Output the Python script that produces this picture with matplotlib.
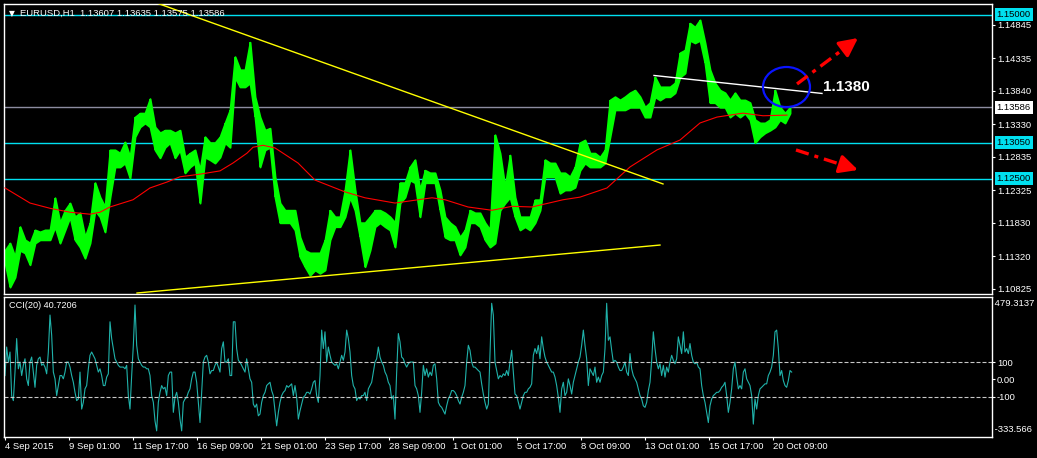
"""
EURUSD H1 chart with CCI(20) sub window
"""
import numpy as np
import matplotlib
matplotlib.use('Agg')
import matplotlib.pyplot as plt
from matplotlib.patches import Ellipse

plt.rcParams['font.family'] = ['Liberation Sans', 'DejaVu Sans']

# Price bars, sampled every 5 hourly bars (high / low)
price_high = [1.1141, 1.1152, 1.1131, 1.1177, 1.1157, 1.1152, 1.1172, 1.1169, 1.1172, 1.1172,
              1.1221, 1.1183, 1.1202, 1.1213, 1.1192, 1.1198, 1.1161, 1.1183, 1.1244, 1.1222,
              1.1207, 1.1294, 1.1294, 1.1289, 1.1306, 1.1283, 1.1344, 1.1350, 1.1350, 1.1372,
              1.1329, 1.1320, 1.1324, 1.1324, 1.1320, 1.1324, 1.1283, 1.1289, 1.1294, 1.1263,
              1.1314, 1.1305, 1.1305, 1.1314, 1.1335, 1.1355, 1.1436, 1.1416, 1.1416, 1.1458,
              1.1375, 1.1344, 1.1324, 1.1327, 1.1253, 1.1213, 1.1202, 1.1202, 1.1202, 1.1161,
              1.1141, 1.1137, 1.1137, 1.1137, 1.1157, 1.1202, 1.1192, 1.1192, 1.1233, 1.1294,
              1.1233, 1.1183, 1.1183, 1.1192, 1.1202, 1.1202, 1.1198, 1.1192, 1.1183, 1.1244,
              1.1244, 1.1268, 1.1279, 1.1233, 1.1263, 1.1259, 1.1259, 1.1233, 1.1192, 1.1183,
              1.1177, 1.1161, 1.1172, 1.1202, 1.1198, 1.1198, 1.1183, 1.1172, 1.1317, 1.1289,
              1.1237, 1.1286, 1.1222, 1.1192, 1.1192, 1.1192, 1.1218, 1.1218, 1.1279, 1.1274,
              1.1274, 1.1259, 1.1259, 1.1253, 1.1268, 1.1305, 1.1309, 1.1289, 1.1289, 1.1283,
              1.1294, 1.1370, 1.1375, 1.1370, 1.1375, 1.1381, 1.1385, 1.1375, 1.1359, 1.1366,
              1.1405, 1.1390, 1.1390, 1.1390, 1.1396, 1.1442, 1.1446, 1.1487, 1.1481, 1.1492,
              1.1457, 1.1416, 1.1396, 1.1385, 1.1381, 1.1370, 1.1381, 1.1370, 1.1370, 1.1366,
              1.1340, 1.1335, 1.1335, 1.1340, 1.1385, 1.1359, 1.1350, 1.1359]
price_low = [1.1122, 1.1085, 1.1100, 1.1141, 1.1137, 1.1119, 1.1152, 1.1157, 1.1157, 1.1157,
             1.1177, 1.1152, 1.1172, 1.1192, 1.1157, 1.1146, 1.1129, 1.1152, 1.1202, 1.1192,
             1.1169, 1.1222, 1.1268, 1.1268, 1.1274, 1.1251, 1.1314, 1.1329, 1.1335, 1.1329,
             1.1294, 1.1282, 1.1298, 1.1305, 1.1282, 1.1294, 1.1259, 1.1268, 1.1274, 1.1213,
             1.1283, 1.1279, 1.1274, 1.1283, 1.1305, 1.1298, 1.1405, 1.1390, 1.1390, 1.1396,
             1.1344, 1.1268, 1.1294, 1.1298, 1.1222, 1.1183, 1.1183, 1.1183, 1.1172, 1.1131,
             1.1116, 1.1103, 1.1111, 1.1106, 1.1111, 1.1157, 1.1177, 1.1177, 1.1192, 1.1222,
             1.1202, 1.1161, 1.1116, 1.1141, 1.1177, 1.1183, 1.1177, 1.1172, 1.1146, 1.1213,
             1.1222, 1.1248, 1.1244, 1.1192, 1.1244, 1.1244, 1.1244, 1.1202, 1.1161, 1.1157,
             1.1157, 1.1134, 1.1146, 1.1183, 1.1183, 1.1177, 1.1157, 1.1146, 1.1152, 1.1202,
             1.1213, 1.1222, 1.1192, 1.1172, 1.1177, 1.1172, 1.1183, 1.1202, 1.1253, 1.1253,
             1.1253, 1.1228, 1.1233, 1.1233, 1.1237, 1.1263, 1.1274, 1.1268, 1.1268, 1.1268,
             1.1274, 1.1314, 1.1355, 1.1355, 1.1355, 1.1359, 1.1359, 1.1359, 1.1344, 1.1344,
             1.1375, 1.1370, 1.1375, 1.1375, 1.1381, 1.1405, 1.1411, 1.1461, 1.1457, 1.1461,
             1.1426, 1.1366, 1.1366, 1.1359, 1.1359, 1.1344, 1.1350, 1.1344, 1.1350, 1.1340,
             1.1305, 1.1314, 1.1320, 1.1324, 1.1329, 1.1340, 1.1335, 1.1350]
bar_step = 5

# Moving average (bar index, price)
ma_bar = [0, 25, 45, 65, 85, 95, 105, 128, 145, 162, 175, 195, 215, 228, 242, 248, 258, 270,
          293, 310, 340, 360, 390, 427, 440, 463, 487, 507, 527, 558, 575, 602, 625, 652, 675,
          695, 712, 738, 758, 782]
ma_val = [1.1236, 1.1213, 1.1205, 1.1199, 1.1196, 1.1199, 1.1207, 1.1218, 1.1236, 1.1245,
          1.1253, 1.1257, 1.1262, 1.1274, 1.1289, 1.1298, 1.1301, 1.1297, 1.1274, 1.1248,
          1.1230, 1.1221, 1.1213, 1.1221, 1.1218, 1.1207, 1.1202, 1.1208, 1.1207, 1.1218,
          1.1222, 1.1236, 1.1268, 1.1294, 1.1309, 1.1335, 1.1344, 1.1350, 1.1346, 1.1347]

# CCI(20), sampled every 5/3 bar
cci = [22, 187, 100, 158, -94, -123, 42, 236, 61, 100, 22, 81, 119, 3, -36, 100, 129, 42, -46, 81,
       119, 129, 81, 90, 71, 32, 158, 372, 255, 42, 3, -94, -36, 22, 22, 3, 42, 100, 100, 71,
       22, -17, -75, -123, -114, 42, -172, -133, -55, -36, 61, 139, 158, 139, 119, 81, 42, 61, 22, -36,
       -36, 13, 32, 333, 236, 178, 119, 100, 81, 71, 71, 71, 61, 81, -94, -172, 22, 197, 430, 197,
       119, 100, 81, 71, 71, 61, 61, 22, -94, -133, -240, -298, -133, -75, -36, -55, -46, -94, 22, 42,
       42, -191, -104, -75, -133, -230, -298, -133, -114, -104, -75, -55, 3, 42, 42, -17, -133, -250, -75, 100,
       129, 139, 100, 32, 51, 51, 81, 100, 71, 42, 178, 217, 100, 100, 119, 22, 22, 333, 333, 178,
       110, 100, 81, 61, 42, 119, 61, 3, -17, -143, -162, -143, -211, -201, -133, -94, -75, -36, -26, -17,
       -65, -94, -182, -269, -191, -133, -94, -75, -65, -36, -46, -36, -26, -94, -36, -104, -230, -182, -143, -104,
       -94, -75, -75, -85, -55, -17, -7, -94, -133, 22, 285, 178, 275, 100, 187, 139, 100, 90, 81, 90,
       61, 100, 139, 110, 158, 285, 236, 158, 22, -36, -55, -123, -104, -114, -94, -94, -75, -123, -55, -36,
       -17, 42, 100, 119, 187, 129, 100, 81, 42, 22, -17, -36, -114, -94,
       -230, 42, 265, 217, 129, 119, 90, 71, 90, 100, 100, 100, -36, -55, -94, -191, -75, 81, 22, 61,
       13, 42, 22, 81, 90, 3, -133, -153, -162, -182, -201, -153, -114, -94, -65, -65, -75, -94, -123, -143,
       -104, -75, -36, 100, 197, 168, 100, 71, 71, 61, 51, 42, -26, -85, -133, -172, -143, 149, 440, 372,
       100, 51, 3, 22, 13, 32, 22, 51, 22, 100, 168, 42, -85, -94, -133, -172, -133, -94, -75, -75,
       -55, -46, -26, 139, 178, 149, 197, 119, 246, 178, 129, 100, 81, 61, 42, 42, 13, -36, -104, -191,
       -55, -17, -94, -75, 3, -36, -85, -17, 22, 61, 100, 129, 197, 285, 197, 119, -36, 61, 42, 22,
       71, -17, 13, -17, 22, 42, 178, 440, 226, 246, 168, 100, 110, 100, 71, 51, 51, 71, 100, 42,
       22, 149, 61, 22, 3, -17, -55, -94, -114, -153, -162, -133, -65, -17, 110, 275, 178, 100, 61, 90,
       22, 81, 13, 71, 42, 100, 139, 110, 90, 119, 246, 197, 149, 275, 158, 178, 149, 207, 139, 100,
       90, 100, 71, 61, -36, -94, -133, -191, -250, -153, -114, -94, -85, -75, -75, -65, -46, -36, -17, -94,
       -191, -133, -55, 61, 100, 13, -55, -36, -55, 42, 61, 3, -17, -36, -94, -259, -114, -172, -94, -55,
       -46, -36, -26, -26, 22, 42, 71, 139, 275, 285, 178, 22, 51, -7, -36, -46, -7, 51, 42]
cci_step = 5 / 3

# Time axis labels, one every 64 bars
date_labels = ['4 Sep 2015', '9 Sep 01:00', '11 Sep 17:00', '16 Sep 09:00', '21 Sep 01:00',
               '23 Sep 17:00', '28 Sep 09:00', '1 Oct 01:00', '5 Oct 17:00', '8 Oct 09:00',
               '13 Oct 01:00', '15 Oct 17:00', '20 Oct 09:00']
price_ticks = [1.14845, 1.14335, 1.13840, 1.13330, 1.12835, 1.12325, 1.11830, 1.11320, 1.10825]

# Horizontal levels: (price, colour)
levels = [(1.15000, '#00e0f0'), (1.13586, '#8c8ca0'), (1.13050, '#00e0f0'), (1.12500, '#00e0f0')]
level_bg = ['#00e0f0', 'white', '#00e0f0', '#00e0f0']

# Drawn objects (bar, price)
upper_trend = [(153, 1.15171), (658, 1.12421)]
lower_trend = [(132, 1.10759), (655, 1.11490)]
white_trend = [(649, 1.14074), (817, 1.13800)]
circle = (781.5, 1.13898, 47, 0.0061)
arrow_up = [(792, 1.13944), (853, 1.14645)]
arrow_down = [(791, 1.12939), (853, 1.12634)]

W, H = 1037, 458
fig = plt.figure(figsize=(W / 100, H / 100), dpi=100, facecolor='black')
ax = fig.add_axes([4 / W, 1 - 294 / H, 988 / W, 290 / H])
ax_cci = fig.add_axes([4 / W, 1 - 437 / H, 988 / W, 140.5 / H])

for a in (ax, ax_cci):
    a.set_facecolor('black')
    a.set_xlim(-1, 987)
    for s in a.spines.values():
        s.set_color('white')
        s.set_linewidth(1)
    a.yaxis.tick_right()
    a.tick_params(axis='y', colors='white', labelsize=6.8, length=2.2, width=0.8, pad=1.4)

# ---- price window
ax.set_ylim(1.10744, 1.15163)
bars = np.arange(len(price_high)) * bar_step
ax.fill_between(bars, price_low, price_high, color='#00ff00', lw=1.4, edgecolor='#00ff00', zorder=2)
ax.vlines(bars, price_low, price_high, color='#00ff00', lw=1.2, zorder=2)
ax.plot(ma_bar, ma_val, color='#ff0000', lw=0.8, zorder=3)

for (lv, col), bg in zip(levels, level_bg):
    ax.axhline(lv, color=col, lw=1, zorder=1)
    ax.annotate(f'{lv:.5f}', xy=(1, lv), xycoords=('axes fraction', 'data'),
                xytext=(3.4, 0), textcoords='offset points', va='center', ha='left',
                fontsize=6.8, color='black', annotation_clip=False,
                bbox=dict(boxstyle='square,pad=0.22', fc=bg, ec='none'))

ax.set_yticks(price_ticks)
ax.set_yticklabels([f'{v:.5f}' for v in price_ticks])
ax.tick_params(axis='x', bottom=False, labelbottom=False)

for line, col in [(upper_trend, '#ffff00'), (lower_trend, '#ffff00'), (white_trend, 'white')]:
    ax.plot([p[0] for p in line], [p[1] for p in line], color=col, lw=1, zorder=4)

ax.add_patch(Ellipse(circle[:2], circle[2], circle[3], fill=False, ec='#0a14ff', lw=1.6, zorder=5))
ax.text(818, 1.1390, '1.1380', color='white', fontsize=11, fontweight='bold',
        va='center', ha='left', zorder=6)

for (p0, p1) in [arrow_up, arrow_down]:
    # dash-dot shaft and a solid head
    f = 0.78
    mid = (p0[0] + f * (p1[0] - p0[0]), p0[1] + f * (p1[1] - p0[1]))
    ax.plot([p0[0], mid[0]], [p0[1], mid[1]], color='#ff0000', lw=2.4,
            ls=(0, (4, 1.8, 1.2, 1.8)), solid_capstyle='butt', zorder=6, clip_on=False)
    ax.annotate('', xy=p1, xytext=mid, annotation_clip=False, zorder=6,
                arrowprops=dict(arrowstyle='-|>,head_length=1.1,head_width=0.55',
                                color='#ff0000', lw=2.4, shrinkA=0, shrinkB=0))

ax.text(8 / 988, 0.9586, '\u25bc', transform=ax.transAxes, color='white',
        fontsize=5.5, va='baseline', ha='center', family='DejaVu Sans')
ax.text(16 / 988, 0.9586, 'EURUSD,H1  1.13607 1.13635 1.13575 1.13586', transform=ax.transAxes,
        color='white', fontsize=6.8, va='baseline', ha='left', zorder=7)

# ---- CCI window
ax_cci.set_ylim(-333.566, 479.3137)
ax_cci.plot(np.arange(len(cci)) * cci_step, cci, color='#20b2aa', lw=0.8)
for lv in (100, -100):
    ax_cci.axhline(lv, color='#c8c8c8', lw=0.8, ls=(0, (3.6, 1.8)))
ax_cci.set_yticks([100, 0, -100])
ax_cci.set_yticklabels(['100', '0.00', '-100'])
ax_cci.text(1.0, 0.985, ' 479.3137', transform=ax_cci.transAxes, color='white', fontsize=6.8,
            va='top', ha='left')
ax_cci.text(1.0, 0.02, ' -333.566', transform=ax_cci.transAxes, color='white', fontsize=6.8,
            va='bottom', ha='left')
ax_cci.text(5 / 988, 0.9146, 'CCI(20) 40.7206', transform=ax_cci.transAxes, color='white',
            fontsize=6.6, va='baseline', ha='left')

ax_cci.set_xticks(np.arange(len(date_labels)) * 64)
ax_cci.set_xticklabels(date_labels, ha='left')
ax_cci.tick_params(axis='x', colors='white', labelsize=6.8, length=2.2, width=0.8, pad=1.4)

fig.savefig('out.png', dpi=100, facecolor='black')
